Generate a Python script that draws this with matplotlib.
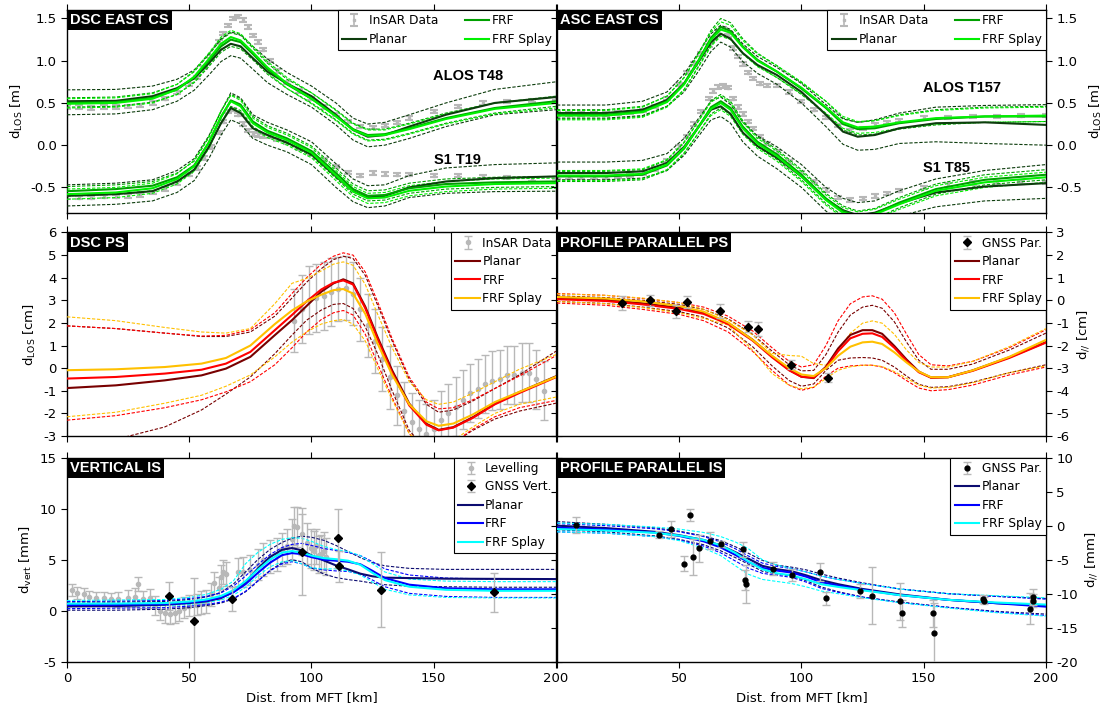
import matplotlib
matplotlib.use('Agg')
import matplotlib.pyplot as plt
import matplotlib.ticker as ticker

plt.rcParams['font.family'] = 'DejaVu Sans'
plt.rcParams['axes.unicode_minus'] = False

# ---------------- top row: east cross sections [m] ----------------
top_x = [0, 20, 35, 45, 52, 58, 63, 67, 71, 76, 82, 90, 100, 110, 117, 123, 130, 140, 155, 175, 200]
insar_top_x = [0, 5, 10, 15, 20, 25, 30, 35, 40, 45, 50, 53, 56, 59, 62, 64, 66, 68, 70, 72,
               74, 76, 78, 80, 83, 86, 90, 95, 100, 105, 110, 115, 120, 125, 130, 135, 140, 150, 160, 170,
               180, 190, 200]
insar_top_err = 0.02

dsc_alos_insar = [0.45, 0.45, 0.44, 0.45, 0.45, 0.46, 0.47, 0.50, 0.55, 0.62, 0.72, 0.80, 0.92, 1.05, 1.22, 1.32, 1.42, 1.50, 1.52, 1.48,
                  1.40, 1.30, 1.22, 1.13, 1.00, 0.88, 0.74, 0.64, 0.55, 0.45, 0.36, 0.28, 0.22, 0.21, 0.23, 0.27, 0.32, 0.40, 0.46, 0.50,
                  0.52, 0.53, 0.55]
dsc_s1_insar = [-0.62, -0.62, -0.62, -0.61, -0.61, -0.60, -0.59, -0.56, -0.52, -0.45, -0.35, -0.27, -0.15, -0.02, 0.15, 0.28, 0.40, 0.42, 0.36, 0.25,
                0.17, 0.13, 0.12, 0.11, 0.10, 0.07, 0.03, -0.04, -0.10, -0.17, -0.25, -0.32, -0.36, -0.33, -0.34, -0.35, -0.35, -0.36, -0.36, -0.37,
                -0.38, -0.40, -0.42]
asc_alos_insar = [0.37, 0.37, 0.37, 0.37, 0.37, 0.38, 0.39, 0.41, 0.46, 0.55, 0.72, 0.86, 0.97, 1.08, 1.18, 1.26, 1.34, 1.38, 1.30, 1.15,
                  1.05, 0.96, 0.86, 0.79, 0.73, 0.71, 0.71, 0.63, 0.52, 0.42, 0.33, 0.23, 0.17, 0.20, 0.24, 0.27, 0.29, 0.32, 0.33, 0.34,
                  0.34, 0.35, 0.35]
asc_s1_insar = [-0.38, -0.38, -0.38, -0.38, -0.38, -0.37, -0.36, -0.33, -0.28, -0.18, -0.02, 0.10, 0.25, 0.40, 0.55, 0.64, 0.69, 0.70, 0.68, 0.55,
                0.45, 0.37, 0.28, 0.20, 0.10, 0.02, -0.08, -0.20, -0.32, -0.43, -0.53, -0.62, -0.65, -0.63, -0.60, -0.57, -0.54, -0.50, -0.47, -0.45,
                -0.44, -0.44, -0.44]

dsc_alos_planar = [0.52, 0.525, 0.58, 0.675, 0.79, 0.97, 1.13, 1.20, 1.17, 1.03, 0.87, 0.73, 0.58, 0.36, 0.18, 0.10, 0.12, 0.22, 0.36, 0.50, 0.57]
dsc_alos_planar_hi = [0.655, 0.66, 0.70, 0.78, 0.89, 1.08, 1.26, 1.34, 1.31, 1.17, 1.02, 0.86, 0.70, 0.50, 0.32, 0.25, 0.27, 0.36, 0.50, 0.66, 0.75]
dsc_alos_planar_lo = [0.36, 0.37, 0.42, 0.52, 0.65, 0.83, 0.99, 1.06, 1.03, 0.90, 0.74, 0.60, 0.45, 0.24, 0.06, -0.02, 0.0, 0.08, 0.22, 0.36, 0.42]
dsc_alos_frf = [0.50, 0.51, 0.56, 0.66, 0.80, 1.00, 1.17, 1.25, 1.22, 1.08, 0.90, 0.72, 0.55, 0.35, 0.19, 0.12, 0.13, 0.20, 0.32, 0.44, 0.52]
dsc_alos_frf_hi = [0.56, 0.57, 0.62, 0.72, 0.87, 1.07, 1.25, 1.33, 1.30, 1.15, 0.97, 0.78, 0.62, 0.42, 0.26, 0.19, 0.19, 0.26, 0.38, 0.50, 0.58]
dsc_alos_frf_lo = [0.45, 0.46, 0.51, 0.60, 0.74, 0.93, 1.10, 1.17, 1.14, 1.01, 0.84, 0.67, 0.50, 0.30, 0.14, 0.06, 0.07, 0.14, 0.26, 0.38, 0.46]
dsc_alos_splay = [0.49, 0.50, 0.55, 0.66, 0.81, 1.02, 1.20, 1.28, 1.24, 1.10, 0.92, 0.73, 0.55, 0.34, 0.18, 0.11, 0.12, 0.19, 0.31, 0.43, 0.50]
dsc_alos_splay_hi = [0.55, 0.56, 0.61, 0.72, 0.88, 1.09, 1.28, 1.36, 1.32, 1.17, 0.99, 0.80, 0.62, 0.41, 0.25, 0.18, 0.18, 0.25, 0.37, 0.50, 0.57]
dsc_alos_splay_lo = [0.44, 0.45, 0.50, 0.60, 0.75, 0.95, 1.13, 1.20, 1.16, 1.03, 0.86, 0.67, 0.49, 0.29, 0.13, 0.05, 0.06, 0.13, 0.25, 0.37, 0.44]

dsc_s1_planar = [-0.60, -0.58, -0.545, -0.43, -0.29, -0.02, 0.26, 0.44, 0.38, 0.20, 0.12, 0.03, -0.11, -0.37, -0.545, -0.62, -0.60, -0.50, -0.43, -0.39, -0.37]
dsc_s1_planar_hi = [-0.47, -0.45, -0.41, -0.30, -0.16, 0.11, 0.40, 0.62, 0.56, 0.36, 0.27, 0.18, 0.04, -0.22, -0.40, -0.48, -0.47, -0.36, -0.27, -0.23, -0.21]
dsc_s1_planar_lo = [-0.72, -0.70, -0.66, -0.56, -0.42, -0.16, 0.12, 0.30, 0.25, 0.08, 0.0, -0.08, -0.23, -0.50, -0.67, -0.74, -0.72, -0.62, -0.57, -0.55, -0.545]
dsc_s1_frf = [-0.545, -0.52, -0.48, -0.38, -0.24, 0.03, 0.33, 0.53, 0.48, 0.28, 0.17, 0.08, -0.07, -0.33, -0.52, -0.60, -0.59, -0.51, -0.46, -0.44, -0.43]
dsc_s1_frf_hi = [-0.49, -0.47, -0.43, -0.33, -0.19, 0.09, 0.40, 0.60, 0.55, 0.34, 0.23, 0.14, -0.01, -0.27, -0.46, -0.54, -0.53, -0.45, -0.40, -0.38, -0.37]
dsc_s1_frf_lo = [-0.60, -0.58, -0.54, -0.44, -0.30, -0.03, 0.26, 0.46, 0.41, 0.22, 0.11, 0.02, -0.13, -0.39, -0.58, -0.66, -0.65, -0.57, -0.52, -0.50, -0.49]
dsc_s1_splay = [-0.58, -0.56, -0.51, -0.40, -0.25, 0.03, 0.34, 0.52, 0.46, 0.26, 0.15, 0.06, -0.09, -0.36, -0.55, -0.63, -0.62, -0.54, -0.49, -0.46, -0.45]
dsc_s1_splay_hi = [-0.52, -0.50, -0.45, -0.34, -0.18, 0.10, 0.41, 0.59, 0.53, 0.32, 0.21, 0.12, -0.03, -0.30, -0.49, -0.57, -0.56, -0.48, -0.43, -0.40, -0.39]
dsc_s1_splay_lo = [-0.64, -0.62, -0.57, -0.46, -0.31, -0.04, 0.27, 0.45, 0.39, 0.20, 0.09, 0.0, -0.15, -0.42, -0.61, -0.69, -0.68, -0.60, -0.55, -0.52, -0.51]

asc_alos_planar = [0.38, 0.38, 0.42, 0.535, 0.73, 0.99, 1.22, 1.32, 1.26, 1.09, 0.95, 0.83, 0.63, 0.36, 0.16, 0.10, 0.12, 0.20, 0.26, 0.27, 0.24]
asc_alos_planar_hi = [0.475, 0.475, 0.52, 0.63, 0.84, 1.10, 1.32, 1.42, 1.37, 1.20, 1.05, 0.92, 0.73, 0.48, 0.31, 0.27, 0.30, 0.38, 0.45, 0.47, 0.48]
asc_alos_planar_lo = [0.32, 0.32, 0.35, 0.46, 0.63, 0.88, 1.11, 1.22, 1.16, 0.99, 0.85, 0.72, 0.50, 0.22, 0.01, -0.06, -0.05, 0.02, 0.04, 0.02, 0.0]
asc_alos_frf = [0.36, 0.36, 0.40, 0.52, 0.73, 1.01, 1.27, 1.40, 1.35, 1.17, 1.01, 0.87, 0.67, 0.44, 0.25, 0.19, 0.20, 0.26, 0.31, 0.34, 0.34]
asc_alos_frf_hi = [0.42, 0.42, 0.46, 0.58, 0.80, 1.09, 1.36, 1.50, 1.45, 1.26, 1.09, 0.94, 0.74, 0.52, 0.32, 0.27, 0.29, 0.36, 0.42, 0.45, 0.46]
asc_alos_frf_lo = [0.31, 0.31, 0.34, 0.46, 0.66, 0.94, 1.19, 1.31, 1.26, 1.09, 0.94, 0.80, 0.60, 0.37, 0.18, 0.12, 0.13, 0.19, 0.24, 0.27, 0.28]
asc_alos_splay = [0.35, 0.35, 0.39, 0.51, 0.72, 1.00, 1.25, 1.37, 1.33, 1.16, 1.00, 0.87, 0.68, 0.45, 0.27, 0.21, 0.22, 0.27, 0.32, 0.34, 0.35]
asc_alos_splay_hi = [0.41, 0.41, 0.45, 0.58, 0.80, 1.08, 1.34, 1.46, 1.42, 1.24, 1.08, 0.94, 0.75, 0.52, 0.34, 0.28, 0.29, 0.35, 0.41, 0.44, 0.45]
asc_alos_splay_lo = [0.30, 0.30, 0.33, 0.45, 0.65, 0.93, 1.17, 1.29, 1.25, 1.08, 0.93, 0.80, 0.61, 0.38, 0.20, 0.14, 0.15, 0.20, 0.25, 0.27, 0.28]

asc_s1_planar = [-0.33, -0.33, -0.31, -0.21, -0.02, 0.22, 0.42, 0.46, 0.37, 0.15, -0.01, -0.15, -0.37, -0.64, -0.77, -0.83, -0.80, -0.69, -0.56, -0.49, -0.45]
asc_s1_planar_hi = [-0.20, -0.20, -0.18, -0.10, 0.08, 0.32, 0.52, 0.57, 0.48, 0.27, 0.11, -0.02, -0.23, -0.50, -0.63, -0.68, -0.66, -0.54, -0.40, -0.30, -0.23]
asc_s1_planar_lo = [-0.41, -0.41, -0.39, -0.30, -0.12, 0.11, 0.30, 0.34, 0.26, 0.04, -0.13, -0.28, -0.50, -0.78, -0.92, -0.97, -0.94, -0.84, -0.73, -0.66, -0.63]
asc_s1_frf = [-0.37, -0.37, -0.35, -0.24, -0.04, 0.22, 0.45, 0.52, 0.44, 0.22, 0.04, -0.11, -0.35, -0.63, -0.78, -0.84, -0.81, -0.68, -0.52, -0.41, -0.35]
asc_s1_frf_hi = [-0.31, -0.31, -0.29, -0.18, 0.03, 0.29, 0.53, 0.60, 0.52, 0.29, 0.10, -0.05, -0.29, -0.57, -0.72, -0.78, -0.75, -0.62, -0.46, -0.35, -0.29]
asc_s1_frf_lo = [-0.43, -0.43, -0.41, -0.30, -0.10, 0.15, 0.37, 0.44, 0.36, 0.15, -0.02, -0.17, -0.41, -0.69, -0.84, -0.90, -0.87, -0.74, -0.58, -0.47, -0.41]
asc_s1_splay = [-0.36, -0.36, -0.34, -0.23, -0.03, 0.22, 0.43, 0.50, 0.42, 0.20, 0.02, -0.13, -0.37, -0.65, -0.80, -0.85, -0.82, -0.70, -0.54, -0.44, -0.38]
asc_s1_splay_hi = [-0.30, -0.30, -0.28, -0.17, 0.04, 0.29, 0.51, 0.58, 0.50, 0.27, 0.08, -0.07, -0.31, -0.59, -0.74, -0.79, -0.76, -0.64, -0.48, -0.38, -0.32]
asc_s1_splay_lo = [-0.42, -0.42, -0.40, -0.29, -0.09, 0.15, 0.35, 0.42, 0.34, 0.13, -0.04, -0.19, -0.43, -0.71, -0.86, -0.91, -0.88, -0.76, -0.60, -0.50, -0.44]

# ---------------- middle left: DSC PS [cm] ----------------
ps_x = [0, 20, 40, 55, 65, 75, 85, 92, 98, 104, 109, 113, 117, 122, 127, 133, 140, 147, 152, 158, 166, 175, 185, 200]
ps_planar = [-0.88, -0.76, -0.54, -0.32, -0.02, 0.50, 1.46, 2.12, 2.75, 3.38, 3.75, 3.93, 3.75, 2.72, 1.38, -0.10, -1.57, -2.46, -2.73, -2.61, -2.17, -1.57, -1.06, -0.36]
ps_planar_hi = [1.87, 1.75, 1.55, 1.40, 1.40, 1.60, 2.30, 3.10, 3.80, 4.40, 4.80, 4.95, 4.85, 4.10, 2.80, 1.20, -0.50, -1.60, -1.95, -1.85, -1.45, -0.90, -0.30, 0.75]
ps_planar_lo = [-3.6, -3.15, -2.6, -1.85, -1.15, -0.39, 0.64, 1.46, 2.12, 2.57, 2.82, 2.86, 2.64, 1.83, 0.64, -1.00, -2.76, -3.6, -3.7, -3.3, -2.75, -2.25, -1.90, -1.55]
ps_frf = [-0.46, -0.39, -0.24, -0.07, 0.20, 0.72, 1.68, 2.35, 2.95, 3.48, 3.78, 3.88, 3.70, 2.65, 1.30, -0.20, -1.65, -2.50, -2.75, -2.63, -2.20, -1.60, -1.10, -0.40]
ps_frf_hi = [1.87, 1.75, 1.55, 1.42, 1.45, 1.70, 2.45, 3.30, 4.00, 4.60, 4.95, 5.10, 5.00, 4.25, 2.95, 1.30, -0.40, -1.50, -1.80, -1.75, -1.40, -0.90, -0.35, 0.55]
ps_frf_lo = [-2.30, -2.10, -1.75, -1.40, -1.05, -0.60, 0.15, 0.90, 1.60, 2.15, 2.45, 2.55, 2.35, 1.50, 0.20, -1.30, -2.90, -3.6, -3.7, -3.3, -2.70, -2.15, -1.75, -1.43]
ps_splay = [-0.09, -0.05, 0.05, 0.20, 0.45, 1.00, 1.95, 2.55, 2.95, 3.25, 3.45, 3.50, 3.30, 2.40, 1.10, -0.30, -1.60, -2.35, -2.55, -2.45, -2.05, -1.50, -1.05, -0.38]
ps_splay_hi = [2.27, 2.10, 1.80, 1.60, 1.55, 1.75, 2.85, 3.75, 3.97, 4.30, 4.60, 4.70, 4.55, 3.70, 2.40, 0.90, -0.60, -1.40, -1.60, -1.50, -1.10, -0.60, -0.05, 0.60]
ps_splay_lo = [-2.15, -1.95, -1.55, -1.20, -0.80, -0.30, 0.50, 1.15, 1.60, 1.95, 2.10, 2.15, 1.95, 1.20, 0.00, -1.40, -2.90, -3.5, -3.6, -3.2, -2.60, -2.00, -1.60, -1.28]

ps_insar_x = [93, 96, 99, 102, 105, 108, 111, 114, 117, 120, 123, 126, 129, 132, 135, 138, 141, 144, 147, 150,
              153, 156, 159, 162, 165, 168, 171, 174, 177, 180, 183, 186, 189, 192, 195]
ps_insar = [2.1, 2.6, 3.0, 3.1, 3.2, 3.35, 3.5, 3.55, 3.3, 2.6, 1.9, 1.2, 0.4, -0.4, -1.2, -1.9, -2.4, -2.7, -2.9, -2.7,
            -2.3, -2.0, -1.7, -1.4, -1.1, -0.9, -0.7, -0.55, -0.5, -0.3, -0.3, -0.2, -0.2, -0.5, -1.0]
ps_insar_err = [1.4, 1.5, 1.5, 1.5, 1.5, 1.5, 1.4, 1.4, 1.4, 1.4, 1.4, 1.4, 1.4, 1.4, 1.3, 1.3, 1.3, 1.3, 1.3, 1.3,
                1.3, 1.3, 1.3, 1.3, 1.3, 1.3, 1.3, 1.3, 1.3, 1.3, 1.3, 1.3, 1.3, 1.3, 1.3]

# ---------------- middle right: profile parallel PS [cm] ----------------
par_x = [0, 20, 35, 50, 60, 70, 80, 88, 95, 100, 105, 110, 115, 120, 125, 129, 133, 138, 143, 148, 153, 160, 170, 185, 200]
par_planar = [0.10, 0.02, -0.13, -0.33, -0.56, -1.00, -1.74, -2.48, -3.08, -3.38, -3.44, -2.94, -2.13, -1.53, -1.32, -1.32, -1.48, -2.02, -2.62, -3.15, -3.42, -3.40, -3.10, -2.52, -1.85]
par_planar_hi = [0.20, 0.12, 0.0, -0.18, -0.40, -0.82, -1.50, -2.25, -2.85, -3.12, -3.10, -2.40, -1.40, -0.65, -0.30, -0.22, -0.35, -0.95, -1.85, -2.65, -3.05, -3.05, -2.82, -2.20, -1.45]
par_planar_lo = [-0.05, -0.14, -0.30, -0.50, -0.75, -1.22, -2.05, -2.90, -3.55, -3.80, -3.70, -3.10, -2.65, -2.55, -2.53, -2.55, -2.65, -2.95, -3.35, -3.72, -3.85, -3.82, -3.62, -3.20, -2.85]
par_frf = [0.05, -0.03, -0.18, -0.38, -0.60, -1.05, -1.78, -2.52, -3.10, -3.38, -3.42, -2.98, -2.25, -1.68, -1.48, -1.46, -1.62, -2.10, -2.68, -3.18, -3.42, -3.40, -3.12, -2.55, -1.87]
par_frf_hi = [0.30, 0.22, 0.08, -0.10, -0.30, -0.70, -1.35, -2.10, -2.70, -2.95, -2.85, -2.00, -0.90, -0.15, 0.15, 0.20, 0.05, -0.55, -1.50, -2.40, -2.85, -2.90, -2.70, -2.10, -1.30]
par_frf_lo = [-0.12, -0.22, -0.40, -0.62, -0.90, -1.40, -2.25, -3.10, -3.75, -3.98, -3.85, -3.35, -3.00, -2.90, -2.87, -2.87, -2.95, -3.20, -3.55, -3.88, -4.00, -3.95, -3.75, -3.30, -2.95]
par_splay = [0.15, 0.08, -0.05, -0.25, -0.50, -0.98, -1.75, -2.45, -3.00, -3.28, -3.35, -3.00, -2.45, -2.05, -1.86, -1.83, -1.93, -2.30, -2.75, -3.15, -3.40, -3.40, -3.10, -2.50, -1.75]
par_splay_hi = [0.28, 0.22, 0.10, -0.10, -0.40, -0.86, -1.53, -2.35, -2.44, -2.47, -2.80, -2.87, -2.20, -1.46, -1.01, -0.91, -1.01, -1.50, -2.20, -2.75, -2.95, -2.95, -2.70, -2.05, -1.25]
par_splay_lo = [-0.05, -0.15, -0.32, -0.55, -0.80, -1.09, -2.20, -3.24, -3.76, -3.91, -3.84, -3.46, -3.09, -2.94, -2.87, -2.87, -2.93, -3.15, -3.45, -3.75, -3.88, -3.85, -3.65, -3.20, -2.90]

gnss_ps_x = [26.5, 38, 48.7, 53, 66.7, 78, 82.4, 95.6, 111]
gnss_ps = [-0.12, 0.0, -0.49, -0.08, -0.46, -1.16, -1.28, -2.84, -3.42]
gnss_ps_err = [0.3, 0.25, 0.3, 0.25, 0.3, 0.25, 0.3, 0.2, 0.2]

# ---------------- bottom left: vertical IS [mm] ----------------
vert_x = [0, 20, 40, 50, 57, 63, 68, 73, 78, 83, 88, 92, 96, 100, 105, 110, 115, 120, 125, 130, 140, 155, 175, 200]
vert_planar = [0.42, 0.45, 0.59, 0.75, 0.92, 1.24, 1.83, 2.81, 4.12, 5.26, 5.98, 6.14, 5.92, 5.42, 4.93, 4.44, 4.05, 3.63, 3.37, 3.24, 3.20, 3.14, 3.12, 3.10]
vert_planar_hi = [0.85, 0.85, 0.90, 1.10, 1.35, 1.80, 2.60, 3.80, 5.00, 6.00, 6.70, 7.10, 7.30, 7.20, 6.90, 6.40, 5.80, 5.20, 4.70, 4.40, 4.15, 4.05, 4.05, 4.05]
vert_planar_lo = [0.05, 0.05, 0.15, 0.30, 0.50, 0.75, 1.15, 1.85, 2.90, 3.95, 4.70, 5.00, 4.80, 4.20, 3.60, 3.25, 3.05, 2.90, 2.70, 2.55, 2.40, 2.35, 2.30, 2.30]
vert_frf = [0.56, 0.58, 0.65, 0.80, 0.98, 1.30, 1.80, 2.60, 3.70, 4.70, 5.45, 5.65, 5.55, 5.25, 5.00, 4.90, 4.80, 4.55, 3.90, 3.20, 2.55, 2.20, 2.10, 2.10]
vert_frf_hi = [0.90, 0.95, 1.00, 1.20, 1.40, 1.75, 2.40, 3.40, 4.50, 5.50, 6.20, 6.50, 6.60, 6.40, 6.10, 5.90, 5.70, 5.40, 4.80, 4.10, 3.50, 3.20, 3.10, 3.10]
vert_frf_lo = [0.20, 0.25, 0.30, 0.45, 0.60, 0.85, 1.20, 1.90, 2.90, 3.90, 4.60, 4.80, 4.60, 4.20, 4.00, 3.90, 3.85, 3.60, 3.00, 2.35, 1.70, 1.40, 1.30, 1.30]
vert_splay = [0.69, 0.70, 0.75, 0.90, 1.10, 1.45, 2.00, 2.90, 4.00, 5.00, 5.70, 5.85, 5.70, 5.40, 5.15, 5.05, 4.90, 4.50, 3.70, 3.00, 2.35, 2.05, 1.95, 1.95]
vert_splay_hi = [1.00, 1.05, 1.10, 1.30, 1.60, 2.10, 2.90, 4.60, 5.70, 6.50, 7.00, 7.15, 7.10, 6.80, 6.30, 6.00, 5.80, 5.40, 4.60, 3.80, 3.10, 2.90, 2.85, 2.85]
vert_splay_lo = [0.40, 0.45, 0.50, 0.60, 0.80, 1.05, 1.50, 2.30, 3.40, 4.30, 4.80, 4.90, 4.60, 4.20, 4.10, 4.10, 3.90, 3.50, 2.80, 2.10, 1.55, 1.30, 1.25, 1.25]

lev_x = [2, 4, 7, 9, 12, 15, 18, 21, 25, 28, 29, 31, 34, 36, 38, 40, 42, 44, 46, 48,
         50, 53, 55, 57, 59, 60, 62, 63, 64, 65, 70, 72, 75, 78, 80, 83, 86, 88, 90, 92,
         93, 94, 96, 98, 100, 101, 102, 103, 104, 105, 106]
lev = [2.0, 1.7, 1.6, 1.3, 1.2, 1.2, 1.1, 1.1, 1.2, 1.3, 2.6, 1.1, 1.2, 0.5, 0.0, -0.2, -0.3, -0.2, 0.0, 0.3,
       0.5, 0.6, 0.8, 0.9, 1.6, 2.7, 2.2, 3.3, 3.8, 3.6, 3.8, 3.8, 4.0, 4.5, 5.0, 5.3, 5.5, 6.0, 6.3, 7.0,
       8.3, 8.2, 7.5, 6.6, 6.1, 5.9, 6.3, 5.5, 5.6, 5.9, 5.3]
lev_err = [0.6, 0.6, 0.6, 0.6, 0.6, 0.6, 0.6, 0.7, 0.8, 0.9, 0.7, 0.8, 0.9, 0.9, 0.9, 1.0, 1.0, 1.0, 1.0, 1.0,
           1.0, 1.0, 1.1, 1.1, 1.1, 1.1, 1.1, 1.2, 1.2, 1.2, 1.4, 1.5, 1.5, 1.5, 1.6, 1.6, 1.6, 1.6, 1.7, 2.0,
           1.9, 2.0, 2.0, 2.0, 1.9, 1.9, 1.7, 1.8, 1.8, 1.8, 1.8]

gv_x = [41.9, 52.1, 67.3, 96.0, 110.7, 111.4, 128.6, 174.6]
gv = [1.45, -1.0, 1.15, 5.8, 7.1, 4.35, 2.06, 1.8]
gv_err = [1.4, 4.2, 1.2, 4.3, 2.9, 1.5, 3.7, 1.9]

# ---------------- bottom right: profile parallel IS [mm] ----------------
pis_x = [0, 20, 40, 50, 60, 67, 73, 78, 84, 90, 96, 102, 108, 115, 125, 140, 160, 180, 200]
pis_planar = [0.0, -0.35, -0.9, -1.4, -2.1, -2.9, -3.9, -4.8, -5.9, -6.4, -6.7, -7.3, -8.0, -8.6, -9.3, -10.1, -10.9, -11.4, -11.7]
pis_planar_hi = [0.6, 0.2, -0.3, -0.8, -1.5, -2.2, -3.1, -4.0, -5.1, -5.8, -6.1, -6.5, -7.1, -7.7, -8.4, -9.3, -10.0, -10.4, -10.7]
pis_planar_lo = [-0.6, -0.9, -1.5, -2.0, -2.8, -3.7, -4.7, -5.6, -6.7, -7.1, -7.4, -8.1, -9.0, -9.7, -10.5, -11.2, -12.0, -12.6, -13.0]
pis_frf = [-0.3, -0.55, -1.0, -1.5, -2.3, -3.2, -4.3, -5.3, -6.2, -6.6, -6.9, -7.5, -8.3, -8.8, -9.4, -10.2, -10.9, -11.4, -11.9]
pis_frf_hi = [0.3, 0.0, -0.45, -0.9, -1.6, -2.4, -3.4, -4.4, -5.5, -6.0, -6.3, -6.8, -7.4, -7.9, -8.5, -9.3, -10.0, -10.4, -10.8]
pis_frf_lo = [-0.9, -1.1, -1.6, -2.1, -3.0, -4.0, -5.2, -6.2, -7.0, -7.3, -7.6, -8.3, -9.2, -9.8, -10.5, -11.3, -12.0, -12.7, -13.2]
pis_splay = [-0.5, -0.7, -1.05, -1.45, -2.1, -2.9, -4.0, -5.2, -6.4, -7.0, -7.3, -7.9, -8.6, -9.0, -9.5, -10.2, -10.9, -11.3, -11.6]
pis_splay_hi = [0.4, 0.2, -0.2, -0.5, -1.0, -1.6, -2.4, -3.3, -5.0, -5.8, -6.3, -6.8, -7.4, -7.9, -8.5, -9.3, -10.0, -10.3, -10.6]
pis_splay_lo = [-0.9, -1.1, -1.6, -2.2, -3.3, -4.4, -5.9, -7.1, -7.9, -8.2, -8.5, -9.0, -9.6, -10.0, -10.6, -11.3, -12.1, -12.8, -13.3]

gp_x = [7.9, 41.6, 46.6, 51.9, 54.5, 55.6, 58.1, 62.4, 67.1, 76.0, 77.0, 77.2, 88.2, 96.0, 107.5, 110.0, 124.0, 128.7, 140.5, 141.2,
        153.8, 154.2, 174.2, 174.5, 193.6, 194.6, 194.8]
gp = [0.1, -1.3, -0.5, -5.6, 1.6, -4.6, -3.3, -2.2, -2.7, -3.5, -8.0, -8.6, -6.3, -7.3, -6.8, -10.7, -9.6, -10.3, -11.1, -12.9,
      -12.9, -15.8, -10.8, -11.0, -12.2, -11.0, -10.5]
gp_err = [1.2, 0.5, 1.2, 1.1, 0.9, 2.6, 2.0, 1.3, 0.5, 1.1, 1.5, 2.8, 1.0, 0.9, 1.3, 1.0, 1.0, 4.2, 2.7, 2.0,
          2.0, 4.5, 0.6, 0.5, 2.3, 1.0, 1.2]

x_ticks = [0, 50, 100, 150, 200]
# the right panel's "0" sits under the left panel's "200", only one label shows
x_labels_right = ['', '50', '100', '150', '200']

GREY = '#b8b8b8'
greens = ['#0d3d0d', '#00a000', '#00f000']
reds = ['#780000', '#ff0000', '#ffc000']
blues = ['#0c0c70', '#0000ff', '#00ffff']
names = ['Planar', 'FRF', 'FRF Splay']
TITLE_FONT = 'Liberation Sans'


def model(ax, x, mid, hi, lo, color, label=None):
    ax.plot(x, hi, color=color, lw=0.8, dashes=(3, 1.5), zorder=3)
    ax.plot(x, lo, color=color, lw=0.8, dashes=(3, 1.5), zorder=3)
    line, = ax.plot(x, mid, color=color, lw=1.5, label=label, zorder=4)
    return line


def tag(ax, s):
    ax.annotate(s, xy=(0, 1), xycoords='axes fraction', xytext=(2.2, -2.2),
                textcoords='offset points', ha='left', va='top', color='white',
                fontsize=10.5, fontweight='bold', family=TITLE_FONT,
                bbox=dict(boxstyle='square,pad=0.2', fc='black', ec='none'), zorder=10)


def style(ax, ylim, yticks, side, bottom, ylabel):
    ax.set_xlim(0, 200)
    ax.set_ylim(*ylim)
    ax.set_xticks(x_ticks)
    ax.set_yticks(yticks)
    ax.tick_params(direction='out', length=4, width=0.8, top=True, right=True,
                   labelsize=9.5, labelbottom=bottom,
                   labelleft=(side == 'left'), labelright=(side == 'right'))
    for sp in ax.spines.values():
        sp.set_linewidth(1.0)
    if side == 'right':
        ax.yaxis.set_label_position('right')
        if bottom:
            ax.set_xticklabels(x_labels_right)
    ax.set_ylabel(ylabel, fontsize=9.5)
    if bottom:
        ax.set_xlabel('Dist. from MFT [km]', fontsize=9.5)


def legend(ax, handles, ncol=1):
    leg = ax.legend(handles=handles, loc='upper right', ncol=ncol, fontsize=8.8,
                    frameon=True, fancybox=False, edgecolor='black', framealpha=1,
                    borderaxespad=0, handlelength=2.0, handletextpad=0.2,
                    labelspacing=0.45, borderpad=0.35, columnspacing=2.2)
    leg.get_frame().set_linewidth(0.8)
    leg.set_zorder(20)


fig = plt.figure(figsize=(11.04, 7.11), dpi=100)
L, R, W = 0.0607, 0.5045, 0.4429
rows = [(0.7008, 0.2851), (0.3868, 0.2862), (0.0693, 0.2870)]


def east_panel(ax, alos_insar, s1_insar, alos, s1):
    ins = ax.errorbar(insar_top_x, alos_insar, yerr=insar_top_err, fmt='s', ms=1.8, color=GREY,
                      elinewidth=1.2, capsize=3, capthick=1.5, label='InSAR Data', zorder=2)
    ax.errorbar(insar_top_x, s1_insar, yerr=insar_top_err, fmt='s', ms=1.8, color=GREY,
                elinewidth=1.2, capsize=3, capthick=1.5, zorder=2)
    lines = []
    for k in range(3):
        mid, hi, lo = alos[k]
        lines.append(model(ax, top_x, mid, hi, lo, greens[k], names[k]))
        mid, hi, lo = s1[k]
        model(ax, top_x, mid, hi, lo, greens[k])
    legend(ax, [ins] + lines, ncol=2)


# DSC EAST CS
ax = fig.add_axes([L, rows[0][0], W, rows[0][1]])
east_panel(ax, dsc_alos_insar, dsc_s1_insar,
           [(dsc_alos_planar, dsc_alos_planar_hi, dsc_alos_planar_lo),
            (dsc_alos_frf, dsc_alos_frf_hi, dsc_alos_frf_lo),
            (dsc_alos_splay, dsc_alos_splay_hi, dsc_alos_splay_lo)],
           [(dsc_s1_planar, dsc_s1_planar_hi, dsc_s1_planar_lo),
            (dsc_s1_frf, dsc_s1_frf_hi, dsc_s1_frf_lo),
            (dsc_s1_splay, dsc_s1_splay_hi, dsc_s1_splay_lo)])
style(ax, (-0.8, 1.6), [-0.5, 0, 0.5, 1.0, 1.5], 'left', False, r'd$_{\mathrm{LOS}}$ [m]')
ax.yaxis.set_major_formatter(ticker.FormatStrFormatter('%.1f'))
ax.text(164, 0.82, 'ALOS T48', ha='center', va='center', fontsize=10.5, fontweight='bold', family=TITLE_FONT)
ax.text(159.5, -0.18, 'S1 T19', ha='center', va='center', fontsize=10.5, fontweight='bold', family=TITLE_FONT)
tag(ax, 'DSC EAST CS')

# ASC EAST CS
ax = fig.add_axes([R, rows[0][0], W, rows[0][1]])
east_panel(ax, asc_alos_insar, asc_s1_insar,
           [(asc_alos_planar, asc_alos_planar_hi, asc_alos_planar_lo),
            (asc_alos_frf, asc_alos_frf_hi, asc_alos_frf_lo),
            (asc_alos_splay, asc_alos_splay_hi, asc_alos_splay_lo)],
           [(asc_s1_planar, asc_s1_planar_hi, asc_s1_planar_lo),
            (asc_s1_frf, asc_s1_frf_hi, asc_s1_frf_lo),
            (asc_s1_splay, asc_s1_splay_hi, asc_s1_splay_lo)])
style(ax, (-0.8, 1.6), [-0.5, 0, 0.5, 1.0, 1.5], 'right', False, r'd$_{\mathrm{LOS}}$ [m]')
ax.yaxis.set_major_formatter(ticker.FormatStrFormatter('%.1f'))
ax.text(165.6, 0.673, 'ALOS T157', ha='center', va='center', fontsize=10.5, fontweight='bold', family=TITLE_FONT)
ax.text(159.5, -0.27, 'S1 T85', ha='center', va='center', fontsize=10.5, fontweight='bold', family=TITLE_FONT)
tag(ax, 'ASC EAST CS')

# DSC PS
ax = fig.add_axes([L, rows[1][0], W, rows[1][1]])
ins = ax.errorbar(ps_insar_x, ps_insar, yerr=ps_insar_err, fmt='o', ms=3, color=GREY,
                  elinewidth=1.0, capsize=3, capthick=1.0, label='InSAR Data', zorder=2)
lines = [model(ax, ps_x, m, h, l, reds[k], names[k]) for k, (m, h, l) in enumerate(
    [(ps_planar, ps_planar_hi, ps_planar_lo), (ps_frf, ps_frf_hi, ps_frf_lo), (ps_splay, ps_splay_hi, ps_splay_lo)])]
legend(ax, [ins] + lines)
style(ax, (-3, 6), range(-3, 7), 'left', False, r'd$_{\mathrm{LOS}}$ [cm]')
tag(ax, 'DSC PS')

# PROFILE PARALLEL PS
ax = fig.add_axes([R, rows[1][0], W, rows[1][1]])
lines = [model(ax, par_x, m, h, l, reds[k], names[k]) for k, (m, h, l) in enumerate(
    [(par_planar, par_planar_hi, par_planar_lo), (par_frf, par_frf_hi, par_frf_lo), (par_splay, par_splay_hi, par_splay_lo)])]
gn = ax.errorbar(gnss_ps_x, gnss_ps, yerr=gnss_ps_err, fmt='D', ms=4, mfc='black', mec='black',
                 ecolor=GREY, elinewidth=1.0, capsize=3, capthick=1.0, label='GNSS Par.', zorder=6)
legend(ax, [gn] + lines)
style(ax, (-6, 3), range(-6, 4), 'right', False, r'd$_{//}$ [cm]')
tag(ax, 'PROFILE PARALLEL PS')

# VERTICAL IS
ax = fig.add_axes([L, rows[2][0], W, rows[2][1]])
lv = ax.errorbar(lev_x, lev, yerr=lev_err, fmt='o', ms=3, color=GREY,
                 elinewidth=1.0, capsize=3, capthick=1.0, label='Levelling', zorder=2)
lines = [model(ax, vert_x, m, h, l, blues[k], names[k]) for k, (m, h, l) in enumerate(
    [(vert_planar, vert_planar_hi, vert_planar_lo), (vert_frf, vert_frf_hi, vert_frf_lo), (vert_splay, vert_splay_hi, vert_splay_lo)])]
gvh = ax.errorbar(gv_x, gv, yerr=gv_err, fmt='D', ms=4, mfc='black', mec='black',
                  ecolor=GREY, elinewidth=1.0, capsize=3, capthick=1.0, label='GNSS Vert.', zorder=6)
legend(ax, [lv, gvh] + lines)
style(ax, (-5, 15), [-5, 0, 5, 10, 15], 'left', True, r'd$_{\mathrm{vert}}$ [mm]')
tag(ax, 'VERTICAL IS')

# PROFILE PARALLEL IS
ax = fig.add_axes([R, rows[2][0], W, rows[2][1]])
lines = [model(ax, pis_x, m, h, l, blues[k], names[k]) for k, (m, h, l) in enumerate(
    [(pis_planar, pis_planar_hi, pis_planar_lo), (pis_frf, pis_frf_hi, pis_frf_lo), (pis_splay, pis_splay_hi, pis_splay_lo)])]
gph = ax.errorbar(gp_x, gp, yerr=gp_err, fmt='o', ms=3.5, mfc='black', mec='black',
                  ecolor=GREY, elinewidth=1.0, capsize=3, capthick=1.0, label='GNSS Par.', zorder=6)
legend(ax, [gph] + lines)
style(ax, (-20, 10), [-20, -15, -10, -5, 0, 5, 10], 'right', True, r'd$_{//}$ [mm]')
tag(ax, 'PROFILE PARALLEL IS')

fig.savefig('out.png', dpi=100)
